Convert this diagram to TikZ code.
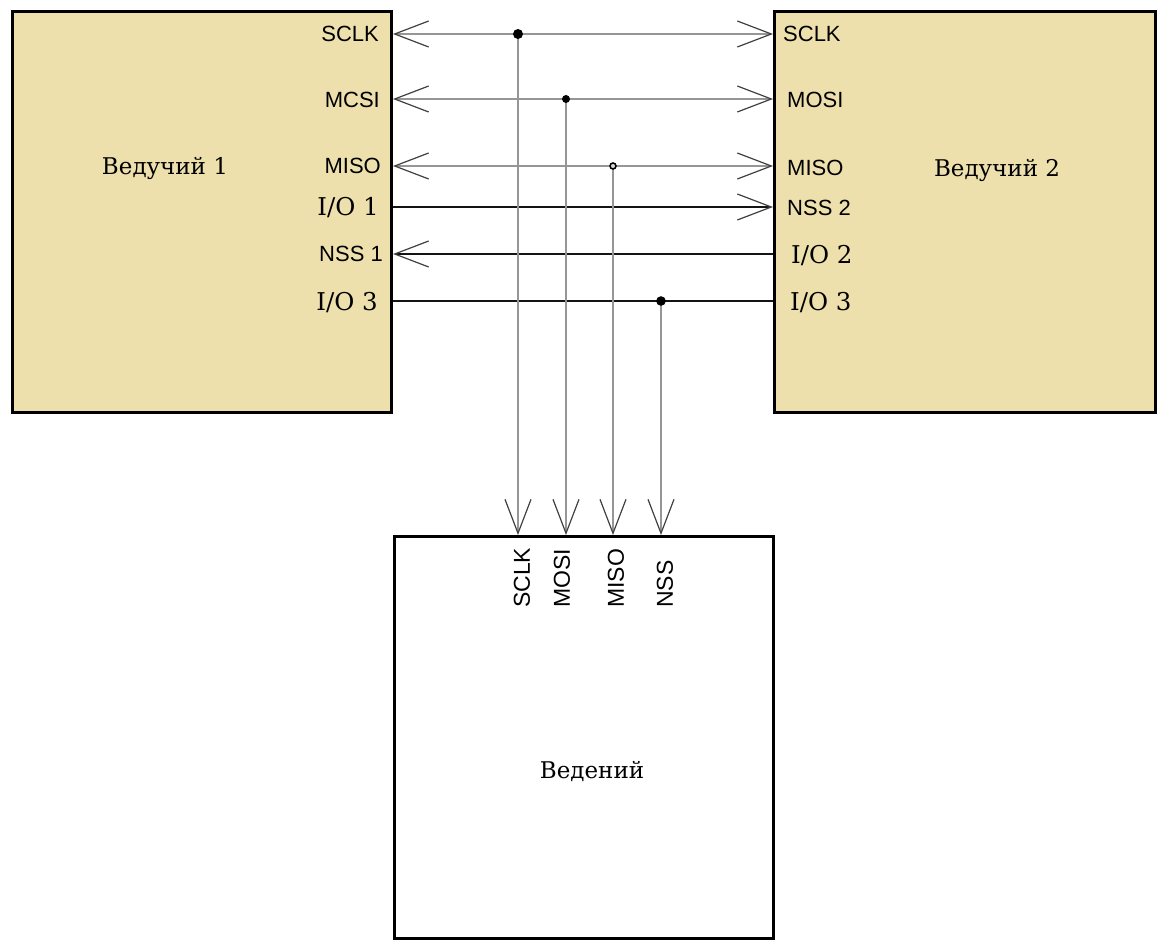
\documentclass[tikz,border=0pt]{standalone}
\usepackage{fontspec}
\setmainfont{DejaVu Serif}
\newfontfamily\pinsans{Liberation Sans}
\newfontfamily\pinserif{DejaVu Serif}
\usetikzlibrary{arrows.meta}
\definecolor{boxfill}{RGB}{237,224,173}
\definecolor{sig}{RGB}{150,150,150}
\definecolor{iol}{RGB}{20,20,20}
\begin{document}
\begin{tikzpicture}[x=1pt,y=-1pt,
  >={Straight Barb[length=34pt,width=26pt,line width=1.2pt,color=black!75]},
  box/.style={draw=black, line width=3.8pt, inner sep=0pt, outer sep=0pt},
  sigline/.style={draw=sig, line width=1.8pt},
  ioline/.style={draw=iol, line width=1.8pt},
  lpin/.style={anchor=east, inner sep=0pt, font=\pinsans\fontsize{22}{24}\selectfont},
  rpin/.style={anchor=west, inner sep=0pt, font=\pinsans\fontsize{22}{24}\selectfont},
  lio/.style={anchor=east, inner sep=0pt, font=\pinserif\fontsize{24.5}{26}\selectfont},
  rio/.style={anchor=west, inner sep=0pt, font=\pinserif\fontsize{24.5}{26}\selectfont},
  bpin/.style={anchor=west, rotate=90, inner sep=0pt, font=\pinsans\fontsize{23}{24}\selectfont},
  title/.style={inner sep=0pt, font=\fontsize{23}{26}\selectfont},
  dot/.style={fill=black}
]
\useasboundingbox (0,0) rectangle (1160,941);
\fill[white] (0,0) rectangle (1160,941);

% boxes
\node[box, fill=boxfill, minimum width=379pt, minimum height=401pt] (m1) at (202,212) {};
\node[box, fill=boxfill, minimum width=381pt, minimum height=401pt] (m2) at (965,212) {};
\node[box, fill=white, minimum width=379pt, minimum height=402pt] (sl) at (584,737.5) {};

% titles
\node[title] (t1) at (165,168) {Ведучий 1};
\node[title] (t2) at (997,170) {Ведучий 2};
\node[title] (t3) at (592,772) {Ведений};

% pin coordinates
\coordinate (L1) at (393,34);  \coordinate (R1) at (773,34);
\coordinate (L2) at (393,99);  \coordinate (R2) at (773,99);
\coordinate (L3) at (393,166); \coordinate (R3) at (773,166);
\coordinate (L4) at (393,207); \coordinate (R4) at (773,207);
\coordinate (L5) at (393,254); \coordinate (R5) at (773,254);
\coordinate (L6) at (393,301); \coordinate (R6) at (773,301);
\coordinate (J1) at (518,34);  \coordinate (B1) at (518,535);
\coordinate (J2) at (566,99);  \coordinate (B2) at (566,535);
\coordinate (J3) at (613,166); \coordinate (B3) at (613,535);
\coordinate (J4) at (661,301); \coordinate (B4) at (661,535);

% left pin labels
\node[lpin] (l1) at (379,34) {SCLK};
\node[lpin] (l2) at (380,100) {MCSI};
\node[lpin] (l3) at (381,166) {MISO};
\node[lio]  (l4) at (379,208) {I/O 1};
\node[lpin] (l5) at (383,254) {NSS 1};
\node[lio]  (l6) at (378,303) {I/O 3};

% right pin labels
\node[rpin] (r1) at (783,34) {SCLK};
\node[rpin] (r2) at (787,100) {MOSI};
\node[rpin] (r3) at (787,168) {MISO};
\node[rpin] (r4) at (787,208) {NSS 2};
\node[rio]  (r5) at (791,256) {I/O 2};
\node[rio]  (r6) at (790,303) {I/O 3};

% bottom pin labels
\node[bpin] (b1) at (522,608) {SCLK};
\node[bpin] (b2) at (562,608) {MOSI};
\node[bpin] (b3) at (616,608) {MISO};
\node[bpin] (b4) at (665,608) {NSS};

% connectors
\draw[sigline,<->] (L1) -- (R1);
\draw[sigline,<->] (L2) -- (R2);
\draw[sigline,<->] (L3) -- (R3);
\draw[ioline,->] (L4) -- (R4);
\draw[ioline,<-] (L5) -- (R5);
\draw[ioline] (L6) -- (R6);
\draw[sigline,->] (J1) -- (B1);
\draw[sigline,->] (J2) -- (B2);
\draw[sigline,->] (J3) -- (B3);
\draw[sigline,->] (J4) -- (B4);

% junction dots
\fill[dot] (J1) circle (5);
\fill[dot] (J2) circle (4);
\filldraw[fill=sig!40, draw=black, line width=1.5pt] (J3) circle (3);
\fill[dot] (J4) circle (4.8);
\end{tikzpicture}
\end{document}
